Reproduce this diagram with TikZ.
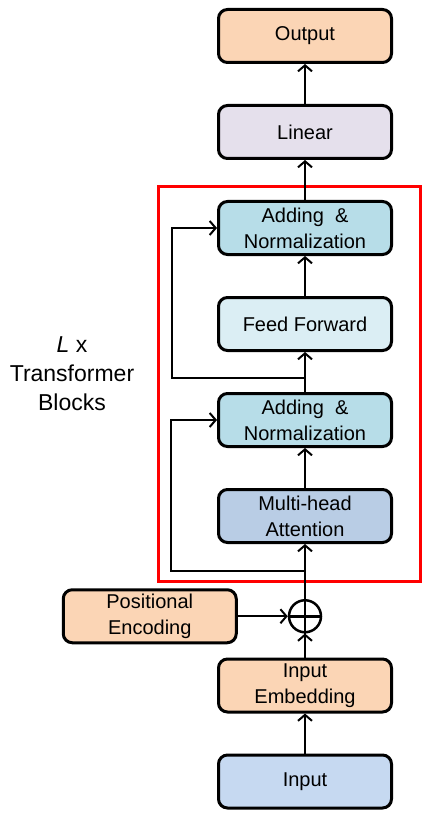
\documentclass[tikz,border=0pt]{standalone}
\usepackage{fontspec}
\setmainfont{Liberation Sans}
\usetikzlibrary{shapes.geometric, arrows.meta, positioning, calc}
\definecolor{peach}{HTML}{FBD5B5}
\definecolor{lavender}{HTML}{E5E0EC}
\definecolor{addnorm}{HTML}{B7DDE8}
\definecolor{feedfwd}{HTML}{DBEEF4}
\definecolor{attn}{HTML}{B9CDE5}
\definecolor{inblue}{HTML}{C6D9F1}
\definecolor{frame}{HTML}{FF0000}
\tikzstyle{block} = [rectangle, rounded corners=9pt, minimum width=173pt, minimum height=53pt, inner sep=2pt, text centered, align=center, draw=black, line width=3pt, font=\fontsize{20}{26}\selectfont]
\tikzstyle{emb} = [block, fill=peach]
\tikzstyle{lin} = [block, fill=lavender]
\tikzstyle{norm} = [block, fill=addnorm]
\tikzstyle{ffn} = [block, fill=feedfwd]
\tikzstyle{att} = [block, fill=attn]
\tikzstyle{inp} = [block, fill=inblue]
\tikzstyle{summ} = [circle, draw=black, line width=2.5pt, minimum size=32pt, inner sep=0pt]
\tikzstyle{arrow} = [line width=2pt,-{Straight Barb[length=6pt,width=14pt]}]

\begin{document}
\begin{tikzpicture}[node distance=40pt]
	\useasboundingbox (0,0) rectangle (434pt,-818pt);
	\node (input) [inp] at (305pt,-781.5pt) {Input};
	\node (embed) [emb, above=of input] {Input\\Embedding};
	\node (plus) [summ, above=24pt of embed] {};
	\node (posenc) [emb, left=50pt of plus] {Positional\\Encoding};
	\node (attention) [att, above=55pt of plus] {Multi-head\\Attention};
	\node (norma) [norm, above=of attention] {Adding~~\&\\Normalization};
	\node (feed) [ffn, above=of norma] {Feed Forward};
	\node (normb) [norm, above=of feed] {Adding~~\&\\Normalization};
	\node (linear) [lin, above=of normb] {Linear};
	\node (output) [emb, above=of linear] {Output};
	% transformer block frame and label
	\draw [frame, line width=3pt] (158pt,-187pt) rectangle (420pt,-581pt);
	\node (blocks) [align=center, font=\fontsize{23}{29}\selectfont] at (72pt,-374pt) {\textit{L} x\\Transformer\\Blocks};
	% sum sign
	\draw [line width=2.5pt] (plus.north) -- (plus.south);
	\draw [line width=2.5pt] (plus.west) -- (plus.east);
	\draw [arrow] (input) -- (embed);
	\draw [arrow] (embed) -- (plus);
	\draw [arrow] (posenc) -- (plus);
	\draw [arrow] (plus) -- (attention);
	\draw [arrow] (attention) -- (norma);
	\draw [arrow] (norma) -- (feed);
	\draw [arrow] (feed) -- (normb);
	\draw [arrow] (normb) -- (linear);
	\draw [arrow] (linear) -- (output);
	% residual paths
	\coordinate (resa) at ($(attention.south)+(0,-27pt)$);
	\coordinate (resb) at ($(norma.north)+(0,14pt)$);
	\draw [arrow] (resa) -- ++(-134pt,0) |- (norma.west);
	\draw [arrow] (resb) -- ++(-133pt,0) |- (normb.west);
\end{tikzpicture}
\end{document}
